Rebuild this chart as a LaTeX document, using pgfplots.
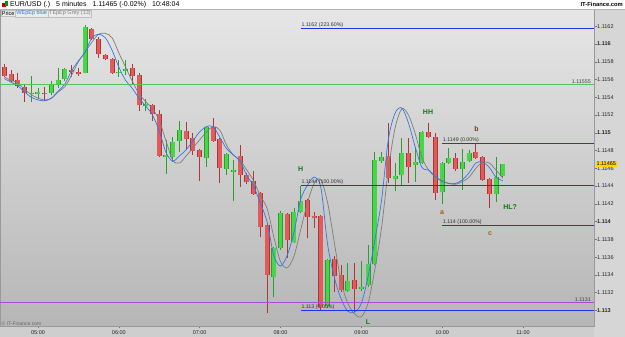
\documentclass[border=0pt]{standalone}
\usepackage{fontspec}
\setmainfont{Liberation Sans}
\usepackage{pgfplots}
\usepackage{pgfplotstable}
\pgfplotsset{compat=1.18}

\definecolor{bgtop}{RGB}{230,230,230}
\definecolor{bgbot}{RGB}{182,182,182}
\definecolor{stripc}{RGB}{214,214,214}
\definecolor{candR}{RGB}{226,90,90}
\definecolor{candRd}{RGB}{172,56,56}
\definecolor{candG}{RGB}{74,212,74}
\definecolor{candGd}{RGB}{40,162,40}
\definecolor{maBlue}{RGB}{50,120,235}
\definecolor{maGrey}{RGB}{125,125,125}
\definecolor{lvBlue}{RGB}{35,50,230}
\definecolor{lvGreen}{RGB}{85,195,85}
\definecolor{lvPurple}{RGB}{160,80,220}
\definecolor{annG}{RGB}{20,120,20}
\definecolor{annB}{RGB}{115,60,15}
\definecolor{annO}{RGB}{170,95,0}
\definecolor{pxYellow}{RGB}{255,214,0}

% red candles: i Open High Low Close
\pgfplotstableread{
i O H L C
-5 1.11574 1.11577 1.11563 1.11564
-4 1.11566 1.11571 1.11557 1.11558
-3 1.11559 1.11567 1.11550 1.11553
-2 1.11552 1.11554 1.11535 1.11545
1 1.11545 1.11552 1.11536 1.11544
5 1.11571 1.11576 1.11563 1.11569
6 1.11568 1.11573 1.11564 1.11566
8 1.11617 1.11618 1.11605 1.11606
9 1.11606 1.11608 1.11584 1.11589
10 1.11588 1.11589 1.11582 1.11583
11 1.11583 1.11584 1.11566 1.11567
14 1.11573 1.11577 1.11555 1.11564
15 1.11565 1.11567 1.11525 1.11531
17 1.11531 1.11532 1.11513 1.11521
18 1.11521 1.11526 1.11473 1.11474
22 1.11502 1.11512 1.11481 1.11493
23 1.11494 1.11500 1.11475 1.11480
24 1.11481 1.11482 1.11446 1.11473
26 1.11507 1.11517 1.11490 1.11491
27 1.11493 1.11494 1.11443 1.11460
30 1.11474 1.11486 1.11439 1.11452
31 1.11452 1.11455 1.11442 1.11445
32 1.11446 1.11457 1.11430 1.11431
33 1.11432 1.11433 1.11383 1.11394
34 1.11396 1.11398 1.11297 1.11340
37 1.11409 1.11410 1.11359 1.11379
40 1.11424 1.11425 1.11382 1.11405
41 1.11406 1.11411 1.11393 1.11404
42 1.11406 1.11407 1.11300 1.11304
44 1.11358 1.11361 1.11321 1.11339
45 1.11340 1.11351 1.11321 1.11323
47 1.11334 1.11353 1.11298 1.11324
52 1.11474 1.11511 1.11443 1.11449
55 1.11477 1.11494 1.11443 1.11461
58 1.11501 1.11511 1.11494 1.11495
59 1.11495 1.11500 1.11424 1.11432
62 1.11472 1.11477 1.11457 1.11459
65 1.11478 1.11487 1.11471 1.11472
66 1.11473 1.11474 1.11446 1.11447
67 1.11448 1.11449 1.11415 1.11431
}\redtab

% green candles: i Open High Low Close
\pgfplotstableread{
i O H L C
-1 1.11544 1.11564 1.11535 1.11545
0 1.11544 1.11550 1.11538 1.11546
2 1.11545 1.11558 1.11543 1.11555
3 1.11554 1.11573 1.11550 1.11559
4 1.11561 1.11573 1.11558 1.11572
7 1.11567 1.11621 1.11567 1.11619
12 1.11568 1.11582 1.11563 1.11569
13 1.11570 1.11582 1.11565 1.11572
16 1.11530 1.11538 1.11525 1.11532
19 1.11473 1.11492 1.11454 1.11475
20 1.11473 1.11495 1.11467 1.11490
21 1.11491 1.11513 1.11478 1.11503
25 1.11472 1.11508 1.11461 1.11507
28 1.11459 1.11477 1.11452 1.11476
29 1.11456 1.11469 1.11423 1.11458
35 1.11338 1.11371 1.11315 1.11370
36 1.11370 1.11412 1.11368 1.11410
38 1.11377 1.11415 1.11376 1.11411
39 1.11411 1.11440 1.11410 1.11423
43 1.11305 1.11358 1.11303 1.11357
46 1.11322 1.11353 1.11321 1.11333
48 1.11324 1.11356 1.11322 1.11326
49 1.11329 1.11374 1.11326 1.11352
50 1.11352 1.11478 1.11351 1.11469
51 1.11468 1.11478 1.11466 1.11473
53 1.11448 1.11466 1.11434 1.11451
54 1.11452 1.11494 1.11440 1.11477
56 1.11464 1.11484 1.11445 1.11467
57 1.11466 1.11502 1.11465 1.11501
60 1.11433 1.11467 1.11420 1.11466
61 1.11466 1.11483 1.11465 1.11472
63 1.11459 1.11482 1.11436 1.11467
64 1.11468 1.11481 1.11467 1.11477
68 1.11431 1.11473 1.11422 1.11450
69 1.11451 1.11465 1.11450 1.11465
}\greentab

% WEpEp (blue)
\pgfplotstableread{
i v
-5 1.11561
-4 1.11557
-3 1.11553
-2 1.11546
-1 1.11540
0 1.11537
1 1.11536
2 1.11539
3 1.11547
4 1.11555
5 1.11570
6 1.11581
7 1.11591
8 1.11607
9 1.11611
10 1.11607
11 1.11593
12 1.11574
13 1.11559
14 1.11550
15 1.11539
16 1.11530
17 1.11520
18 1.11502
19 1.11478
20 1.11468
21 1.11474
22 1.11481
23 1.11491
24 1.11501
25 1.11507
26 1.11507
27 1.11495
28 1.11482
29 1.11475
30 1.11468
31 1.11452
32 1.11440
33 1.11421
34 1.11400
35 1.11362
36 1.11350
37 1.11362
38 1.11388
39 1.11425
40 1.11441
41 1.11450
42 1.11438
43 1.11374
44 1.11337
45 1.11313
46 1.11299
47 1.11298
48 1.11308
49 1.11338
50 1.11379
51 1.11424
52 1.11492
53 1.11522
54 1.11528
55 1.11511
56 1.11484
57 1.11461
58 1.11458
59 1.11451
60 1.11445
61 1.11443
62 1.11443
63 1.11447
64 1.11455
65 1.11466
66 1.11467
67 1.11461
68 1.11450
69 1.11446
}\bluetab

% TEpEp (grey)
\pgfplotstableread{
i v
-5 1.11563
-4 1.11559
-3 1.11556
-2 1.11549
-1 1.11543
0 1.11539
1 1.11537
2 1.11539
3 1.11546
4 1.11552
5 1.11565
6 1.11580
7 1.11591
8 1.11602
9 1.11611
10 1.11612
11 1.11607
12 1.11590
13 1.11574
14 1.11558
15 1.11544
16 1.11535
17 1.11527
18 1.11514
19 1.11491
20 1.11469
21 1.11466
22 1.11474
23 1.11483
24 1.11492
25 1.11501
26 1.11507
27 1.11503
28 1.11486
29 1.11475
30 1.11469
31 1.11458
32 1.11446
33 1.11429
34 1.11415
35 1.11383
36 1.11355
37 1.11348
38 1.11361
39 1.11391
40 1.11421
41 1.11443
42 1.11447
43 1.11421
44 1.11376
45 1.11332
46 1.11308
47 1.11296
48 1.11293
49 1.11308
50 1.11346
51 1.11393
52 1.11458
53 1.11505
54 1.11527
55 1.11520
56 1.11499
57 1.11472
58 1.11458
59 1.11450
60 1.11446
61 1.11443
62 1.11442
63 1.11445
64 1.11450
65 1.11460
66 1.11467
67 1.11466
68 1.11458
69 1.11449
}\greytab

\newcommand{\tinyf}{\fontsize{5.5}{6}\selectfont}
\newcommand{\lvf}{\fontsize{5.3}{6}\selectfont}
\newcommand{\annf}{\fontsize{7}{8}\selectfont\bfseries}

\pgfplotsset{candle/.style={only marks, mark size=0pt, mark options={draw=none, fill=none}, forget plot}}

\begin{document}
\begin{tikzpicture}[x=1pt,y=1pt]
\useasboundingbox (0,0) rectangle (625,337);
\fill[white] (0,0) rectangle (625,337);
\fill[stripc] (594,0) rectangle (625,328);
\fill[stripc!96!black] (0,0) rectangle (594,11);
\begin{axis}[
  at={(0pt,11pt)}, anchor=south west, scale only axis,
  width=594pt, height=317pt,
  xmin=-5.641, xmax=82.54,
  ymin=1.1128247, ymax=1.116394,
  axis background/.style={shade, top color=bgtop, bottom color=bgbot},
  axis line style={draw=black!40, line width=0.5pt},
  clip=true,
  scaled y ticks=false,
  ytick pos=right, yticklabel pos=right,
  xtick pos=bottom,
  tick align=outside,
  major tick length=2.5pt,
  tick style={black!55, line width=0.4pt},
  ytick={1.113,1.1132,1.1134,1.1136,1.1138,1.114,1.1142,1.1144,1.1146,1.1148,1.115,1.1152,1.1154,1.1156,1.1158,1.116,1.1162},
  yticklabels={\textbf{1.113},1.1132,1.1134,1.1136,1.1138,\textbf{1.114},1.1142,1.1144,1.1146,1.1148,\textbf{1.115},1.1152,1.1154,1.1156,1.1158,\textbf{1.116},1.1162},
  yticklabel style={font=\tinyf, anchor=west, inner sep=0pt, xshift=0.5pt, text=black!85},
  xtick={0,12,24,36,48,60,72},
  xticklabels={05:00,06:00,07:00,08:00,09:00,10:00,11:00},
  xticklabel style={font=\tinyf, anchor=north, inner sep=0pt, yshift=-1.5pt, text=black!85},
]
% wicks
\addplot[candle,
  error bars/.cd, y dir=both, y explicit, error mark=none,
  error bar style={draw=candRd, line width=0.9pt}]
  table[x=i, y=O, y error plus expr=\thisrow{H}-\thisrow{O}, y error minus expr=\thisrow{O}-\thisrow{L}] {\redtab};
\addplot[candle,
  error bars/.cd, y dir=both, y explicit, error mark=none,
  error bar style={draw=candGd, line width=0.9pt}]
  table[x=i, y=O, y error plus expr=\thisrow{H}-\thisrow{O}, y error minus expr=\thisrow{O}-\thisrow{L}] {\greentab};
% bodies (outline then fill)
\addplot[candle,
  error bars/.cd, y dir=plus, y explicit, error mark=none,
  error bar style={draw=candRd, line width=5pt}]
  table[x=i, y=C, y error plus expr=\thisrow{O}-\thisrow{C}] {\redtab};
\addplot[candle,
  error bars/.cd, y dir=plus, y explicit, error mark=none,
  error bar style={draw=candR, line width=3.6pt}]
  table[x=i, y=C, y error plus expr=\thisrow{O}-\thisrow{C}] {\redtab};
\addplot[candle,
  error bars/.cd, y dir=plus, y explicit, error mark=none,
  error bar style={draw=candGd, line width=5pt}]
  table[x=i, y=O, y error plus expr=\thisrow{C}-\thisrow{O}] {\greentab};
\addplot[candle,
  error bars/.cd, y dir=plus, y explicit, error mark=none,
  error bar style={draw=candG, line width=3.6pt}]
  table[x=i, y=O, y error plus expr=\thisrow{C}-\thisrow{O}] {\greentab};
% moving averages
\addplot[maGrey, line width=0.7pt, smooth, mark=none] table[x=i, y=v] {\greytab};
\addplot[maBlue, line width=0.7pt, smooth, mark=none] table[x=i, y=v] {\bluetab};
% level lines
\addplot[lvGreen, line width=1pt] coordinates {(-5.641,1.115544) (82.54,1.115544)};
\addplot[lvPurple, line width=1pt] coordinates {(-5.641,1.113089) (82.54,1.113089)};
\addplot[lvBlue, line width=1pt] coordinates {(39,1.116175) (82.54,1.116175)};
\addplot[lvBlue, line width=1pt] coordinates {(60,1.11488) (82.54,1.11488)};
\addplot[lvBlue, line width=1pt] coordinates {(39,1.114407) (82.54,1.114407)};
\addplot[lvBlue, line width=1pt] coordinates {(60,1.113956) (82.54,1.113956)};
\addplot[lvBlue, line width=1pt] coordinates {(39,1.112999) (82.54,1.112999)};
% level labels
\node[anchor=south west, font=\lvf, inner sep=0.6pt, text=black!80] at (axis cs:39,1.116175) {1.1162 (223.60\%)};
\node[anchor=south west, font=\lvf, inner sep=0.6pt, text=black!80] at (axis cs:60,1.11488) {1.1149 (0.00\%)};
\node[anchor=south west, font=\lvf, inner sep=0.6pt, text=black!80] at (axis cs:39,1.114407) {1.1144 (100.00\%)};
\node[anchor=south west, font=\lvf, inner sep=0.6pt, text=black!80] at (axis cs:60,1.113956) {1.114 (100.00\%)};
\node[anchor=south west, font=\lvf, inner sep=0.6pt, text=black!80] at (axis cs:39,1.112999) {1.113 (0.00\%)};
\node[anchor=south east, font=\lvf, inner sep=0.8pt, text=black!75] at (axis cs:82.2,1.115544) {1.11555};
\node[anchor=south east, font=\lvf, inner sep=0.8pt, text=black!75] at (axis cs:82.2,1.113089) {1.1131};
% pattern annotations
\node[font=\annf, text=annG] at (axis cs:39.0,1.11459) {H};
\node[font=\annf, text=annG] at (axis cs:57.9,1.11523) {HH};
\node[font=\annf, text=annB] at (axis cs:65.1,1.11504) {b};
\node[font=\annf, text=annO] at (axis cs:60.0,1.11410) {a};
\node[font=\annf, text=annO] at (axis cs:67.1,1.11386) {c};
\node[font=\annf, text=annG] at (axis cs:70.1,1.11416) {HL?};
\node[font=\annf, text=annG] at (axis cs:49.0,1.11287) {L};
\end{axis}
% header bar
\fill[white] (0,328) rectangle (625,337);
\draw[black!30, line width=0.4pt] (0,328) -- (625,328);
\fill[red!75!black] (1.5,329.5) rectangle (6,334);
\fill[green!60!black] (4.5,331) rectangle (8,335.5);
\node[anchor=west, font=\fontsize{7}{8}\selectfont, inner sep=0pt] at (10,332.6)
  {EUR/USD (.)\hspace{6pt}5 minutes\hspace{6pt}1.11465 (-0.02\%)\hspace{6pt}10:48:04};
\node[anchor=east, font=\fontsize{5.8}{7}\selectfont\bfseries, inner sep=0pt] at (623,332.6) {IT-Finance.com};
% series labels row
\node[anchor=west, font=\tinyf, inner sep=0.9pt, fill=white!92!black, draw=black!25, line width=0.3pt] (lp) at (0.8,323.5) {Price};
\node[anchor=west, font=\tinyf, inner sep=0.9pt, fill=white!92!black, draw=black!25, line width=0.3pt, text=maBlue] (lb) at (lp.east) {WEpEp blue};
\node[anchor=west, font=\tinyf, inner sep=0.9pt, fill=white!92!black, draw=black!25, line width=0.3pt, text=black!50] (lg) at (lb.east) {TEpEp Grey (13)};
% copyright
\node[anchor=west, font=\fontsize{5}{6}\selectfont, inner sep=0pt, text=black!60] at (1.5,13.5) {\textcopyright\ IT-Finance.com};
% current price box
\node[anchor=west, font=\tinyf, inner sep=0.8pt, fill=pxYellow, text=black] at (595.5,173) {1.11465};
\end{tikzpicture}
\end{document}
